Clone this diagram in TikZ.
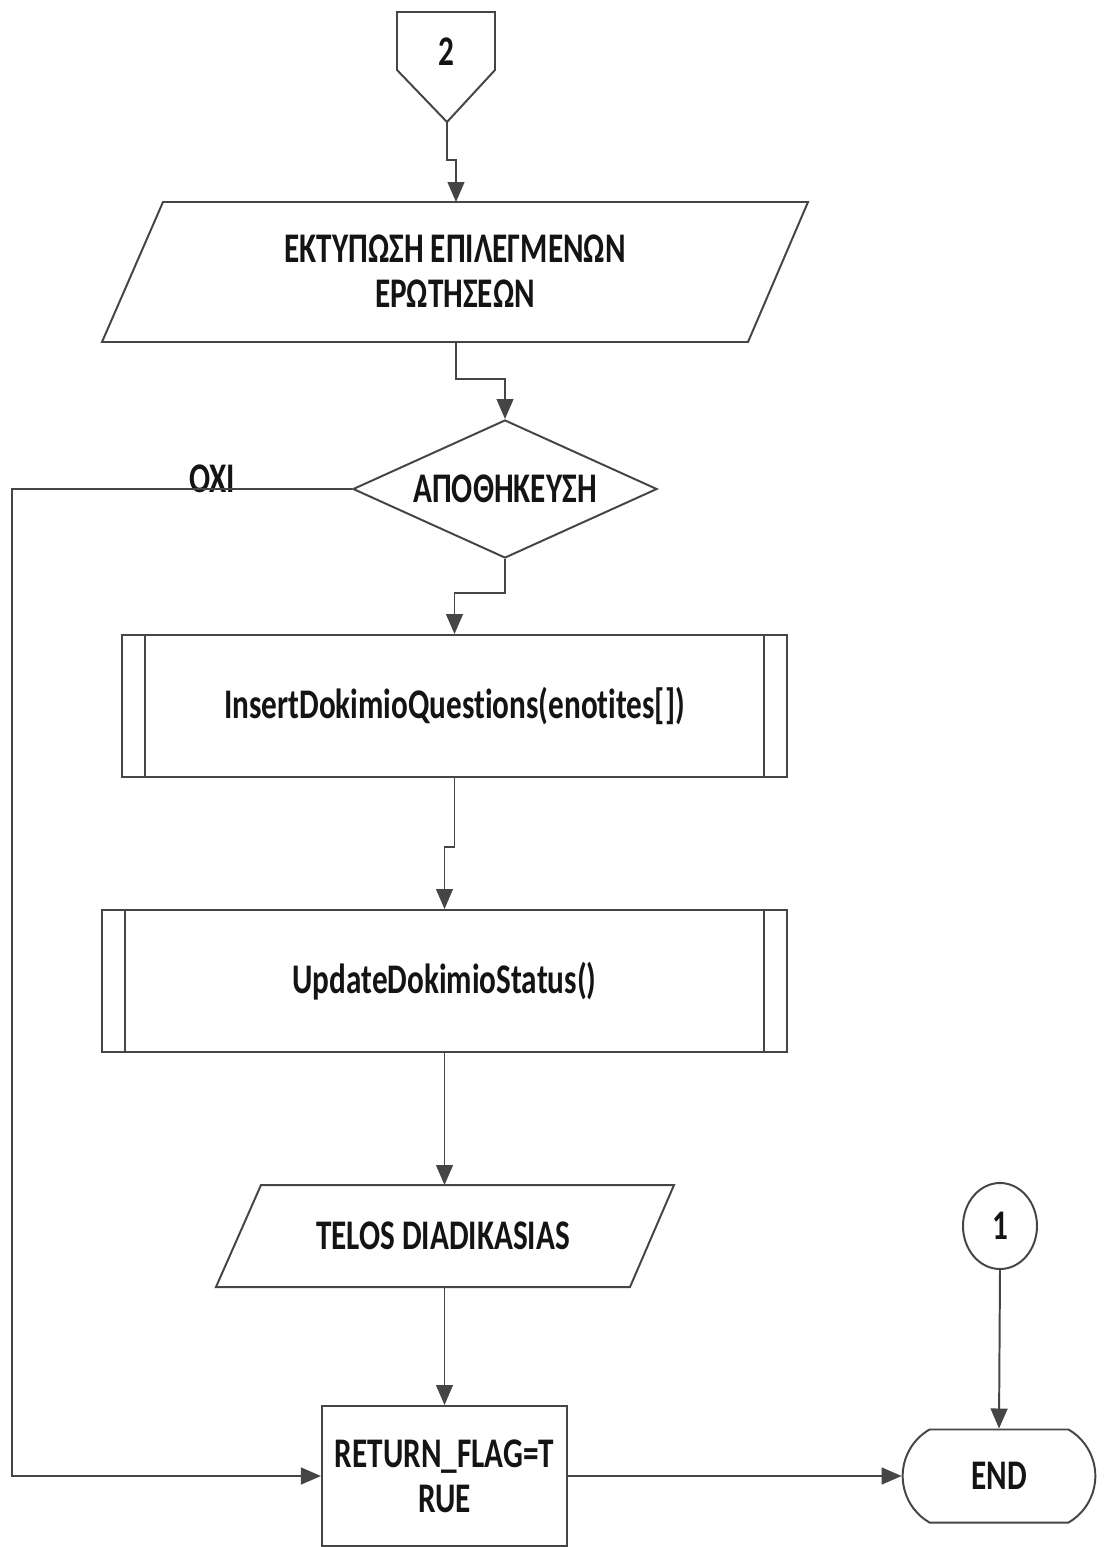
\documentclass[tikz,border=0pt]{standalone}
\usepackage{fontspec}
\setmainfont{Carlito}[FakeStretch=0.74, Ligatures=NoCommon]
\usetikzlibrary{shapes.geometric,shapes.misc,arrows.meta}
\definecolor{linea}{HTML}{454545}
\definecolor{testo}{HTML}{141414}

\begin{document}
\begin{tikzpicture}[x=0.025cm, y=-0.025cm,
    every node/.style={font=\fontsize{30}{32}\selectfont\bfseries, text=testo},
    linee/.style={draw=linea, line width=1.4pt},
    freccia/.style={linee, -{Triangle[length=0.5cm, width=0.42cm]}},
    blocco/.style={rectangle, linee, inner sep=0pt},
  ]
  \useasboundingbox (0,0) rectangle (1104,1547);

  %connettore 2
  \draw[linee] (397,12) -- (495,12) -- (495,70) -- (447,122) -- (397,70) -- cycle;
  \node (conn2) at (446,52) {2};
  \coordinate (conn2p) at (447,122);

  %stampa domande
  \draw[linee] (163,202) -- (808,202) -- (748,342) -- (102,342) -- cycle;
  \node[align=center] (stampa) at (455,271) {ΕΚΤΥΠΩΣΗ ΕΠΙΛΕΓΜΕΝΩΝ\\ΕΡΩΤΗΣΕΩΝ};
  \coordinate (stampaN) at (456,202);
  \coordinate (stampaS) at (456,342);

  %decisione
  \node[diamond, linee, shape aspect=2.2, inner sep=0pt, minimum width=7.6cm, minimum height=3.45cm] (salva) at (505,489) {ΑΠΟΘΗΚΕΥΣΗ};
  \node (oxi) at (212,479) {OXI};

  %sottoprogrammi
  \node[blocco, minimum width=16.625cm, minimum height=3.55cm] (ins) at (454.5,706) {InsertDokimioQuestions(enotites[])};
  \draw[linee] ([xshift=0.6cm]ins.north west) -- ([xshift=0.6cm]ins.south west);
  \draw[linee] ([xshift=-0.6cm]ins.north east) -- ([xshift=-0.6cm]ins.south east);

  \node[blocco, minimum width=17.125cm, minimum height=3.55cm] (upd) at (444.5,981) {UpdateDokimioStatus()};
  \draw[linee] ([xshift=0.6cm]upd.north west) -- ([xshift=0.6cm]upd.south west);
  \draw[linee] ([xshift=-0.6cm]upd.north east) -- ([xshift=-0.6cm]upd.south east);

  %telos
  \draw[linee] (261,1185) -- (674,1185) -- (630,1287) -- (216,1287) -- cycle;
  \node (telos) at (443,1236) {TELOS DIADIKASIAS};
  \coordinate (telosN) at (444.5,1185);
  \coordinate (telosS) at (444.5,1287);

  %return e fine
  \node[blocco, align=center, minimum width=6.125cm, minimum height=3.5cm] (ret) at (444.5,1476) {RETURN\_FLAG=T\\RUE};
  \node[rounded rectangle, rounded rectangle arc length=120, linee, minimum width=5.05cm, minimum height=2.325cm] (fine) at (999,1476) {END};
  \node[ellipse, linee, inner sep=0pt, minimum width=1.85cm, minimum height=2.15cm] (conn1) at (1000,1226) {1};

  %frecce
  \draw[freccia] (conn2p) -- (447,160) -- (456,160) -- (stampaN);
  \draw[freccia] (stampaS) -- (456,379) -- (505,379) -- (salva.north);
  \draw[freccia] (salva.south) -- (505,593) -- (454.5,593) -- (ins.north);
  \draw[freccia] (ins.south) -- (454.5,847) -- (444.5,847) -- (upd.north);
  \draw[freccia] (upd.south) -- (telosN);
  \draw[freccia] (telosS) -- (ret.north);
  \draw[freccia] (salva.west) -- (12,489) -- (12,1476) -- (ret.west);
  \draw[freccia] (ret.east) -- (fine.west);
  \draw[freccia] (conn1.south) -- (fine.north);
\end{tikzpicture}
\end{document}
